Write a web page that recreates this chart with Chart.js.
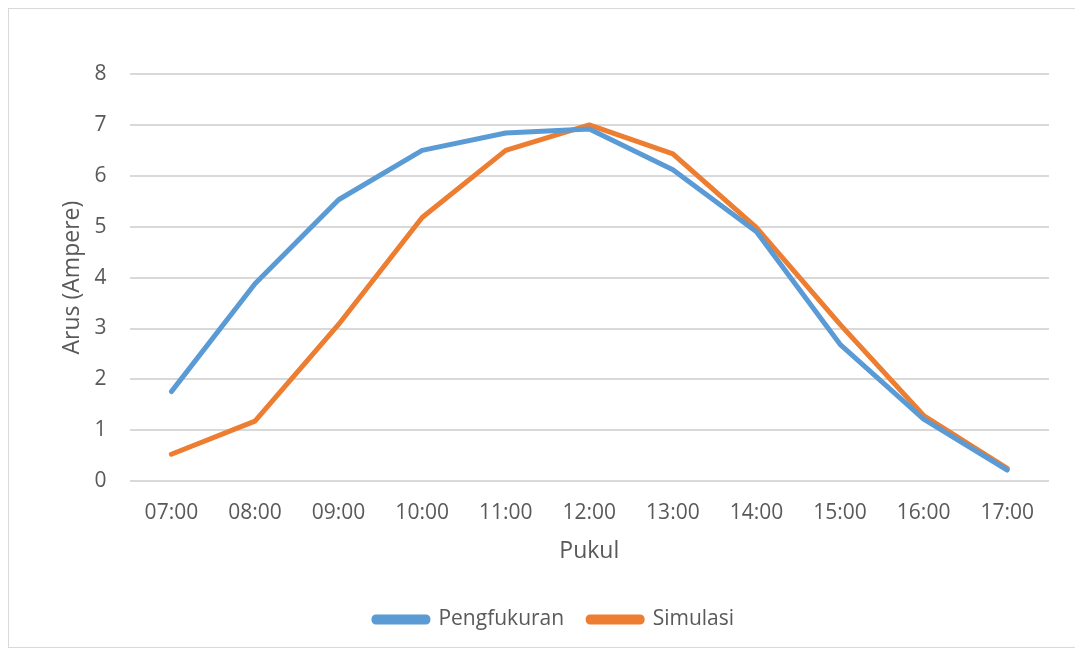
<!DOCTYPE html>
<html>
<head>
<meta charset="utf-8">
<script src="https://cdn.jsdelivr.net/npm/chart.js@4.4.0/dist/chart.umd.min.js"></script>
<style>
  body { margin: 0; background: #fff; }
  #box { position: absolute; left: 8px; top: 8px; width: 1075px; height: 640px; border: 1px solid #d9d9d9; box-sizing: border-box; }
  #wrap { position: absolute; left: 0; top: 0; width: 1075px; height: 649px; }
</style>
</head>
<body>
<div id="box"></div>
<div id="wrap"><canvas id="myChart"></canvas></div>
<script>
// data
let labels = ['07:00', '08:00', '09:00', '10:00', '11:00', '12:00', '13:00', '14:00', '15:00', '16:00', '17:00'];
let pengukuran = [1.76, 3.88, 5.53, 6.5, 6.84, 6.92, 6.12, 4.9, 2.69, 1.22, 0.22];
let simulasi = [0.53, 1.18, 3.08, 5.18, 6.5, 7.0, 6.43, 4.98, 3.08, 1.29, 0.25];

const fontFam = "'Open Sans', 'Noto Sans', sans-serif";
const grey = '#595959';
const xTickPad = 19;
const yTickPad = 23;

const ctx = document.getElementById('myChart').getContext('2d');
const myChart = new Chart(ctx, {
    type: 'line',
    data: {
        labels: labels,
        datasets: [
            {
                label: 'Pengfukuran',
                data: pengukuran,
                borderColor: '#5b9bd5',
                backgroundColor: '#5b9bd5',
                borderWidth: 5,
                pointRadius: 0,
                borderCapStyle: 'round',
                borderJoinStyle: 'round',
                tension: 0
            },
            {
                label: 'Simulasi',
                data: simulasi,
                borderColor: '#ed7d31',
                backgroundColor: '#ed7d31',
                borderWidth: 5,
                pointRadius: 0,
                borderCapStyle: 'round',
                borderJoinStyle: 'round',
                tension: 0
            }
        ]
    },
    options: {
        responsive: true,
        maintainAspectRatio: false,
        animation: false,
        layout: {
            padding: { left: 59, right: 26, top: 74, bottom: 9 }
        },
        plugins: {
            tooltip: { enabled: false },
            legend: {
                position: 'bottom',
                labels: {
                    boxWidth: 54,
                    boxHeight: 5,
                    padding: 24,
                    useBorderRadius: true,
                    borderRadius: 2,
                    color: grey,
                    font: { family: fontFam, size: 21 }
                }
            }
        },
        scales: {
            x: {
                offset: true,
                grid: { display: false, drawTicks: false },
                border: { display: false },
                afterFit: (scale) => { scale.height -= xTickPad; },
                ticks: {
                    color: grey,
                    padding: xTickPad,
                    maxRotation: 0,
                    font: { family: fontFam, size: 21 }
                },
                title: {
                    display: true,
                    text: 'Pukul',
                    color: grey,
                    padding: { top: 12, bottom: 20 },
                    font: { family: fontFam, size: 23 }
                }
            },
            y: {
                min: 0,
                max: 8,
                afterFit: (scale) => { scale.width -= yTickPad; },
                ticks: {
                    stepSize: 1,
                    color: grey,
                    padding: yTickPad,
                    font: { family: fontFam, size: 21 }
                },
                grid: { color: '#d9d9d9', lineWidth: 2, drawTicks: false },
                border: { display: false },
                title: {
                    display: true,
                    text: 'Arus (Ampere)',
                    color: grey,
                    padding: { top: 0, bottom: 8 },
                    font: { family: fontFam, size: 23 }
                }
            }
        }
    }
});
</script>
</body>
</html>
